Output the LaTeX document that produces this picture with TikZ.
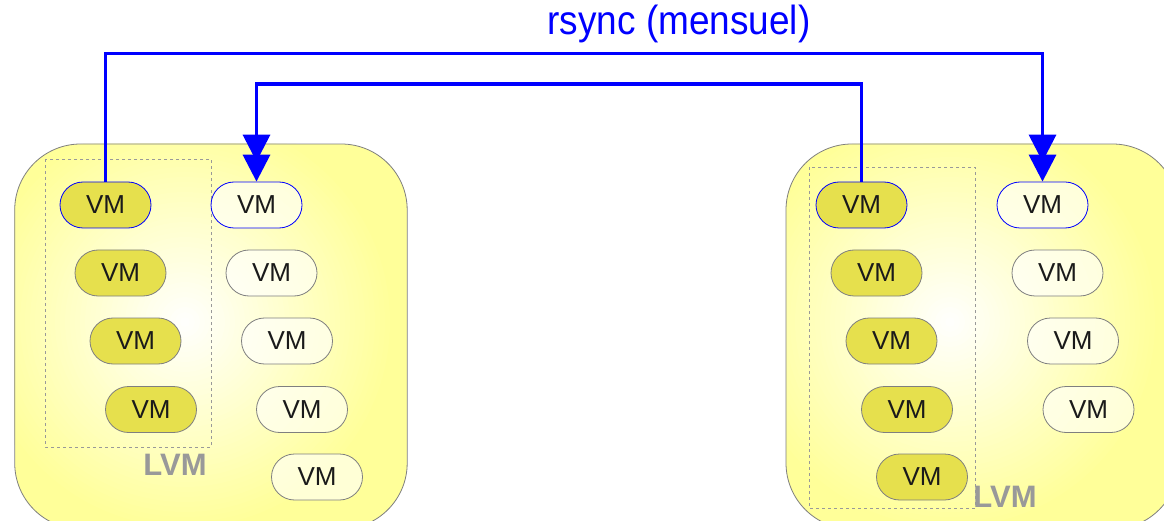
\documentclass[tikz,border=0pt]{standalone}
\usepackage{fontspec}
\setmainfont{Liberation Sans}
\usetikzlibrary{arrows.meta}
\definecolor{boxyellow}{HTML}{FFFF99}
\definecolor{vmfill}{HTML}{E6E04D}
\definecolor{edgegray}{HTML}{7F7F7F}
\definecolor{lvmgray}{HTML}{999999}
\definecolor{vmtext}{HTML}{1A1A1A}

\begin{document}
\begin{tikzpicture}[x=1pt,y=-1pt,
  host/.style={draw=edgegray, line width=0.8pt, rounded corners=66pt},
  vm/.style={draw=edgegray, line width=0.8pt, rounded corners=23pt, minimum width=91pt,
    minimum height=46pt, inner sep=0pt, font=\fontsize{26}{26}\selectfont, text=vmtext},
  lvmvm/.style={vm, fill=vmfill},
  freevm/.style={vm, fill=white, fill opacity=0.6, text opacity=1},
  linked/.style={draw=blue},
  lvmbox/.style={draw=edgegray!80, dash pattern=on 3pt off 3pt, line width=0.8pt},
  lvmlabel/.style={text=lvmgray, font=\fontsize{31}{31}\selectfont\bfseries, inner sep=0pt, anchor=base},
  sync/.style={draw=blue, line width=3.5pt,
    -{Triangle[length=27pt,width=27pt,sep=-7pt]Triangle[length=27pt,width=27pt]}},
]
\clip (0,0) rectangle (1164,521);
\fill[white] (0,0) rectangle (1164,521);

% hosts: yellow body with a soft white glow built from concentric discs
\foreach \bx/\cx in {14.7/185, 786/950} {
  \begin{scope}
    \clip[rounded corners=66pt] (\bx,144) rectangle ++(392.5,385);
    \fill[boxyellow] (\bx,144) rectangle ++(392.5,385);
    \foreach \r in {210,205,...,5} {
      \pgfmathsetmacro\p{\r/2.1}
      \fill[boxyellow!\p!white] (\cx,322) circle (\r);
    }
  \end{scope}
}
\draw[host] (14.7,144) rectangle (407.2,529);
\draw[host] (786,144) rectangle (1178.5,529);

% LVM groups
\draw[lvmbox] (45,159) rectangle (211,447);
\draw[lvmbox] (809,167) rectangle (975,508);
\node[lvmlabel] (llvm) at (175,475) {LVM};
\node[lvmlabel] (rlvm) at (1005,507) {LVM};

% left host
\node[lvmvm, linked] (la1) at (105.5,205) {VM};
\node[lvmvm] (la2) at (120.5,273) {VM};
\node[lvmvm] (la3) at (135.5,341) {VM};
\node[lvmvm] (la4) at (151,409.5) {VM};
\node[freevm, linked] (lf1) at (256.5,205) {VM};
\node[freevm] (lf2) at (271.5,273) {VM};
\node[freevm] (lf3) at (287,341) {VM};
\node[freevm] (lf4) at (302,409.5) {VM};
\node[freevm] (lf5) at (317,477) {VM};

% right host
\node[lvmvm, linked] (ra1) at (861.5,205) {VM};
\node[lvmvm] (ra2) at (876.5,273) {VM};
\node[lvmvm] (ra3) at (891.5,341) {VM};
\node[lvmvm] (ra4) at (907,409.5) {VM};
\node[lvmvm] (ra5) at (922,477) {VM};
\node[freevm, linked] (rf1) at (1042.5,205) {VM};
\node[freevm] (rf2) at (1057.5,273) {VM};
\node[freevm] (rf3) at (1073,341) {VM};
\node[freevm] (rf4) at (1088.5,409.5) {VM};

% monthly rsync links
\node[text=blue, font=\fontsize{37}{37}\selectfont, anchor=base, inner sep=0pt] (title) at (679,35)
  {\scalebox{1}[1.1]{rsync (mensuel)}};
\coordinate (outer) at (679,53.5);
\coordinate (inner) at (559,84);
\draw[sync] (la1.north) |- (outer) -| (rf1.north);
\draw[sync] (ra1.north) |- (inner) -| (lf1.north);
\end{tikzpicture}
\end{document}
